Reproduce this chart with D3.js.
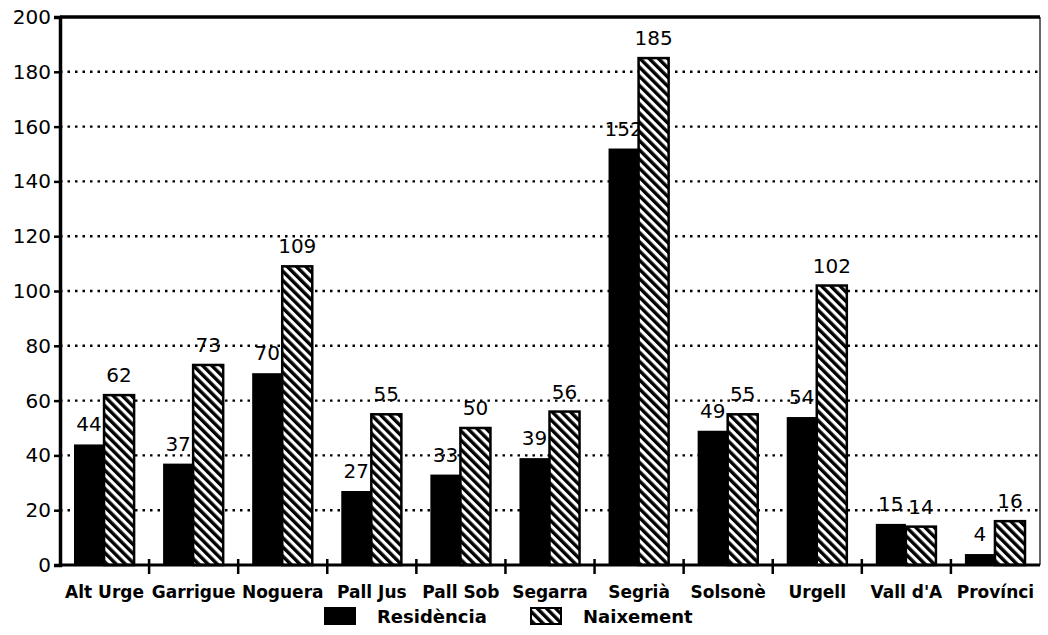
<!DOCTYPE html>
<html><head><meta charset="utf-8">
<script src="https://cdn.jsdelivr.net/npm/d3@7"></script>
<style>body{margin:0;background:#fff}svg{display:block}text{font-family:"DejaVu Sans",sans-serif;fill:#000}</style>
</head><body><svg id="c" width="1048" height="635"></svg>
<script>
const categories = ["Alt Urge","Garrigue","Noguera","Pall Jus","Pall Sob","Segarra","Segrià","Solsonè","Urgell","Vall d'A","Provínci"];
const residencia = [44,37,70,27,33,39,152,49,54,15,4];
const naixement = [62,73,109,55,50,56,185,55,102,14,16];
const yTicks = [0,20,40,60,80,100,120,140,160,180,200];
const seriesNames = ["Residència","Naixement"];

const svg = d3.select("#c");
const m = {l:60,r:1040,t:17,b:565};
const defs = svg.append("defs");
const pat = defs.append("pattern").attr("id","hatch").attr("patternUnits","userSpaceOnUse")
  .attr("width",6.5).attr("height",6.5).attr("patternTransform","rotate(-45)");
pat.append("rect").attr("width",6.5).attr("height",6.5).attr("fill","#fff");
pat.append("rect").attr("x",0).attr("width",3.4).attr("height",6.5).attr("fill","#000");

const x = d3.scaleBand().domain(categories).range([m.l,m.r]).paddingInner(0).paddingOuter(0);
const inner = d3.scaleBand().domain(seriesNames).range([14, x.bandwidth()-15]);
const y = d3.scaleLinear().domain([0,200]).range([m.b,m.t]);

// grid
svg.append("g").selectAll("line").data(yTicks.filter(d=>d>0&&d<200)).join("line")
  .attr("x1",m.l).attr("x2",m.r).attr("y1",d=>y(d)).attr("y2",d=>y(d))
  .attr("stroke","#000").attr("stroke-width",2.4).attr("stroke-dasharray","2.5,5");

// bars
const g = svg.append("g");
categories.forEach((c,i)=>{
  const vals = [residencia[i], naixement[i]];
  seriesNames.forEach((s,j)=>{
    const x0 = x(c)+inner(s), w = inner.bandwidth();
    g.append("rect").attr("x",x0).attr("y",y(vals[j])).attr("width",w).attr("height",y(0)-y(vals[j]))
      .attr("fill", j===0?"#000":"url(#hatch)").attr("stroke","#000").attr("stroke-width",j===0?0:2.5);
    g.append("text").attr("x",x0+w/2).attr("y",y(vals[j])-13).attr("text-anchor","middle")
      .attr("font-size",20).text(vals[j]);
  });
});

// frame
svg.append("line").attr("x1",m.l).attr("x2",m.r).attr("y1",m.t).attr("y2",m.t).attr("stroke","#000").attr("stroke-width",3.5);
svg.append("line").attr("x1",m.r).attr("x2",m.r).attr("y1",m.t).attr("y2",m.b).attr("stroke","#000").attr("stroke-width",1.2);

// y axis
const ya = svg.append("g").attr("transform",`translate(${m.l},0)`)
  .call(d3.axisLeft(y).tickValues(yTicks).tickSize(6).tickPadding(3));
ya.select(".domain").attr("stroke-width",3.5);
ya.selectAll(".tick line").attr("stroke-width",2.5);
ya.selectAll("text").attr("font-size",20).style("font-family","DejaVu Sans, sans-serif");

// x axis
const xa = svg.append("g").attr("transform",`translate(0,${m.b})`);
xa.append("line").attr("x1",m.l).attr("x2",m.r).attr("stroke","#000").attr("stroke-width",3);
xa.selectAll(".sep").data(categories.slice(1)).join("line").attr("class","sep")
  .attr("x1",d=>x(d)).attr("x2",d=>x(d)).attr("y1",-6).attr("y2",9).attr("stroke","#000").attr("stroke-width",2.5);
xa.selectAll(".lab").data(categories).join("text").attr("class","lab")
  .attr("x",d=>x(d)+x.bandwidth()/2).attr("y",33).attr("text-anchor","middle")
  .attr("font-size",17).attr("font-weight","bold").text(d=>d);

// legend
const lg = svg.append("g");
const legItems = [{n:seriesNames[0],x:325,f:"#000"},{n:seriesNames[1],x:531,f:"url(#hatch)"}];
legItems.forEach(d=>{
  lg.append("rect").attr("x",d.x).attr("y",608).attr("width",30).attr("height",16).attr("fill",d.f).attr("stroke","#000").attr("stroke-width",2);
  lg.append("text").attr("x",d.x+52).attr("y",623).attr("font-size",18).attr("font-weight","bold").text(d.n);
});
</script></body></html>
